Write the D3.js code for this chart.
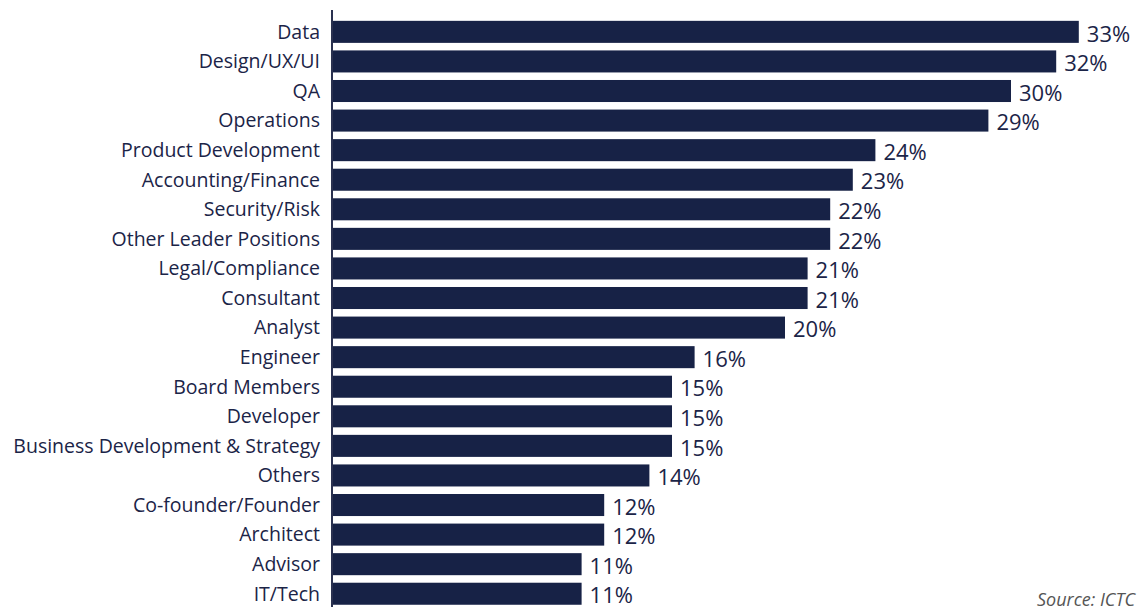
<!DOCTYPE html>
<html>
<head>
<meta charset="utf-8">
<script src="https://cdn.jsdelivr.net/npm/d3@7"></script>
<style>
  body { margin: 0; background: #fff; }
  svg { display: block; }
  .cat { font-family: 'Open Sans', sans-serif; font-size: 19.5px; font-weight: 500; fill: #1b2447; }
  .val { font-family: 'Open Sans', sans-serif; font-size: 22px; font-weight: 500; fill: #1b2447; }
  .src { font-family: 'Open Sans', sans-serif; font-size: 18px; font-style: italic; fill: #555; }
</style>
</head>
<body>
<div id="chart"></div>
<script>
// roles and share of respondents (%)
const categories = [
  'Data', 'Design/UX/UI', 'QA', 'Operations', 'Product Development',
  'Accounting/Finance', 'Security/Risk', 'Other Leader Positions',
  'Legal/Compliance', 'Consultant', 'Analyst', 'Engineer', 'Board Members',
  'Developer', 'Business Development & Strategy', 'Others',
  'Co-founder/Founder', 'Architect', 'Advisor', 'IT/Tech'
]
const values = [33, 32, 30, 29, 24, 23, 22, 22, 21, 21, 20, 16, 15, 15, 15, 14, 12, 12, 11, 11]
const source = 'Source: ICTC'

const width = 1142
const height = 612
const margin = { top: 17, right: 10, bottom: 3, left: 333 }
const barColor = '#172246'

const svg = d3.select('#chart').append('svg')
  .attr('width', width)
  .attr('height', height)

const x = d3.scaleLinear()
  .domain([0, 1])
  .range([margin.left, margin.left + 22.6])

const y = d3.scaleBand()
  .domain(categories)
  .range([margin.top, margin.top + 29.58 * categories.length])
  .paddingInner(0.255)
  .paddingOuter(0.13)

const rows = categories.map((c, i) => ({ cat: c, val: values[i] }))

// bars
svg.append('g')
  .selectAll('rect')
  .data(rows)
  .join('rect')
  .attr('x', x(0))
  .attr('y', d => y(d.cat))
  .attr('width', d => x(d.val) - x(0))
  .attr('height', y.bandwidth())
  .attr('fill', barColor)

// category axis
const axis = svg.append('g')
  .attr('transform', `translate(${x(0) - 1},0)`)
  .call(d3.axisLeft(y).tickSize(0).tickPadding(12))
axis.select('.domain')
  .attr('d', `M0,10V607`)
  .attr('stroke', '#2a3150')
  .attr('stroke-width', 2)
axis.selectAll('text')
  .attr('class', 'cat')
  .attr('fill', null)
  .attr('dy', '0.35em')
axis.attr('font-family', null).attr('font-size', null)

// value labels
svg.append('g')
  .selectAll('text')
  .data(rows)
  .join('text')
  .attr('class', 'val')
  .attr('x', d => x(d.val) + 8)
  .attr('y', d => y(d.cat) + y.bandwidth() / 2 + 2)
  .attr('dy', '0.35em')
  .text(d => d.val + '%')

svg.append('text')
  .attr('class', 'src')
  .attr('x', width - 7)
  .attr('y', 606)
  .attr('text-anchor', 'end')
  .text(source)
</script>
</body>
</html>
